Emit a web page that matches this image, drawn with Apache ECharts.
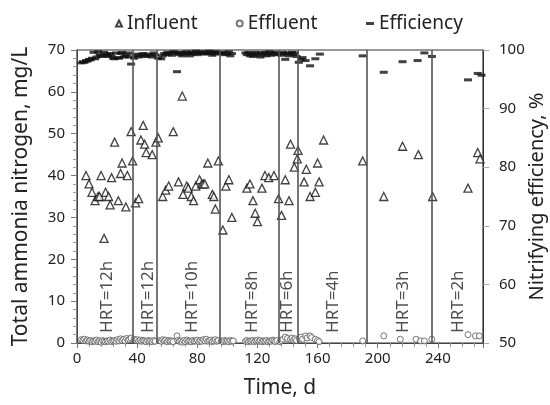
<!DOCTYPE html>
<html>
<head>
<meta charset="utf-8">
<script src="https://cdn.jsdelivr.net/npm/echarts@6/dist/echarts.min.js"></script>
<style>
  html, body { margin: 0; padding: 0; background: #fff; }
  #chart { width: 550px; height: 405px; }
</style>
</head>
<body>
<div id="chart"></div>
<script>
// [day, mg/L]
var influent = [
    [6,40],[8,38],[10,36],[12,34],[14,35],[15,35],[16,40],[18,25],[19,36],[21,35],[22,33],[23,39.5],
    [25,48],[27.5,34],[29,40.5],[30,43],[32.5,32.5],[33.5,40],[36,50.5],[37,43.5],
    [39,33.5],[41,34.5],[42.5,48.5],[44,52],[45,47.5],[46,45.5],[50,45],[52.5,48],[54,49],
    [57,35],[59,36.5],[61,37.5],[64,50.5],[67.5,38.5],[70,59],[70.5,35.5],[73,37.5],[74,37],[76,35],
    [77.5,34],[79,37.5],[81.5,39],[83,38],[84,38],[85,38],[87,43],[90,35.5],[91,35],[92,32],[94,43.5],
    [97,27],[99,37.5],[101,39],[103,30],[113,37],[115,38],[117,34],[118.5,31],[120,29],[123,37],
    [125,40],[127.5,39.5],[131,40],[134,34.5],
    [136,30.5],[138.5,39],[141,34],[142,47.5],[144.5,42],[146.5,44],
    [147,46],[151,38.5],[152.5,41.5],[155,35],[158.5,36],[160,43],[161,38.5],[164,48.5],[190,43.5],
    [204,35],[216.5,47],[227,45],[236.5,35],
    [260,37],[266.5,45.5],[268,44]
];

// [day, mg/L]
var effluent = [
    [3,0.8],[4,0.6],[5,0.9],[6,0.5],[7,0.7],[8,0.4],[9,0.6],[10,0.3],[11,0.5],[12,0.4],[13,0.7],[14,0.3],
    [15,0.5],[16,0.2],[17,0.6],[18,0.4],[19,0.3],[20,0.5],[21,0.4],[22,0.7],[23,0.3],[24,0.5],[25,0.6],
    [26,0.4],[27,0.8],[28,0.5],[29,1.0],[30,0.6],[31,0.9],[32,0.5],[33,1.1],[34,0.7],[35,0.9],[36,1.2],
    [38,0.9],[39,0.6],[40,0.8],[41,0.5],[42,0.7],[43,0.4],[44,0.6],[45,0.5],[46,0.3],[47,0.6],[48,0.4],
    [49,0.5],[50,0.3],[51,0.6],[52,0.4],
    [55,0.6],[56,0.4],[57,0.8],[58,0.5],[59,0.7],[60,0.3],[61,0.6],[62,0.4],[63,0.5],[64,0.3],[66.5,1.7],
    [67,0.6],[68,0.4],[69,0.5],[70,0.2],[71,0.6],[72,0.3],[73,0.7],[74,0.4],[75,0.5],[76,0.3],[77,0.6],
    [78,0.4],[79,0.5],[80,0.7],[81,0.3],[82,0.6],[83,0.4],[84,0.8],[85,0.5],[86,0.9],[87,0.4],[88,0.6],
    [89,0.7],[90,0.3],[91,0.5],[92,0.8],[93,0.4],[94,0.6],
    [96,0.5],[97,0.3],[98,0.6],[99,0.4],[100,0.5],[101,0.3],[102,0.6],[103,0.4],[104,0.5],
    [112,0.4],[113,0.6],[114,0.3],[115,0.5],[116,0.4],[117,0.6],[118,0.3],[119,0.5],[120,0.7],[121,0.4],
    [122,0.6],[123,0.3],[124,0.5],[125,0.4],[126,0.6],[127,0.3],[128,0.5],[129,0.4],[130,0.7],[131,0.5],
    [132,0.3],[133,0.6],
    [135,0.3],[136,0.6],[137,0.9],[138.5,1.4],[140,1.1],[142,0.9],[143,1.2],[144,0.7],[145,1.0],[146,0.6],
    [148,1.0],[149,1.4],[150,0.9],[152,1.7],[153,1.2],[155,1.7],[156,1.3],[158.5,0.9],[160,0.6],[161,0.3],
    [190,0.5],
    [204,1.7],[215,0.9],[225.5,0.9],[228.5,0.5],[231,0.5],[236,0.9],
    [260,2.0],[265,1.7],[267.5,1.7]
];

// [day, %]
var efficiency = [
    [3,97.8],[4,98.0],[5,97.9],[6,98.2],[7,98.1],[8,98.4],[9,98.3],[10,98.6],[11,99.6],[12,98.5],
    [13,98.8],[14,99.7],[15,99.2],[16,99.0],[17,98.9],[18,99.6],[19,99.1],[20,99.3],[21,98.9],[22,99.4],
    [23,99.0],[24,98.6],[25,98.5],[26,99.5],[27,98.7],[28,98.6],[29,99.4],[30,99.6],[31,98.8],[32,98.9],
    [33,99.2],[34,99.5],[35,98.8],[36,97.6],
    [38,98.6],[39,99.3],[40,99.0],[41,98.8],[43,99.2],[44,99.4],[45,99.0],[46,98.9],[47,99.3],[49,99.1],
    [50,98.8],[51,99.5],[52,99.2],[54,98.6],
    [56,98.5],[57,99.0],[58,99.4],[59,99.2],[60,99.6],[61,99.3],[62,99.5],[63,99.1],[64,99.7],[65,99.6],
    [66.5,96.3],[67,99.4],[68,99.2],[69,99.6],[70,99.0],[71,99.5],[72,99.3],[73,99.7],[74,99.4],[75,99.0],
    [76,99.6],[77,99.3],[78,99.5],[79,99.8],[80,99.2],[81,99.6],[82,99.4],[83,99.7],[84,99.5],[85,99.3],
    [86,99.6],[87,99.4],[88,99.8],[89,99.5],[90,99.1],[91,99.6],[92,99.3],[93,99.7],[94,99.5],
    [96,99.4],[97,99.6],[98,99.2],[99,99.5],[100,99.3],[101,99.7],[102,99.0],[103,99.4],
    [112,99.5],[113,99.2],[114,99.6],[115,99.0],[116,99.4],[117,98.9],[118,99.3],[119,99.6],[120,99.1],
    [121,99.4],[122,98.8],[123,99.5],[124,99.2],[125,99.6],[126,99.0],[127,99.4],[128,99.7],[129,99.1],
    [130,99.5],[131,99.3],[132,99.6],[133,99.2],
    [135,99.4],[136,99.1],[137,99.6],[138.5,98.4],[139,99.3],[140,99.5],[141,99.0],[142,99.4],[143,99.6],
    [144,99.2],[145,99.5],[146,98.9],
    [147.5,97.9],[149,98.4],[150,98.7],[152,98.2],[155,97.3],[158.5,98.5],[161.5,99.3],[190,99.0],
    [204,96.2],[216.5,98.0],[226.5,98.2],[231,99.5],[236,98.9],
    [260,94.9],[266.5,96.0],[269,95.7]
];

// HRT period boundaries (day) and labels
var hrtBounds = [37, 53, 95, 134, 147, 193, 236];
var hrtNames = ['HRT=12h', 'HRT=12h', 'HRT=10h', 'HRT=8h', 'HRT=6h', 'HRT=4h', 'HRT=3h', 'HRT=2h'];
var hrtLabelDays = [20, 47, 76.5, 116.5, 140, 170.5, 217, 253.5];
var hrtLabelY = 2.4;

var FONT = 'Noto Sans';

var hrtLabels = [];
for (var i = 0; i < hrtNames.length; i++) {
    hrtLabels.push([hrtLabelDays[i], hrtLabelY, hrtNames[i]]);
}

var chart = echarts.init(document.getElementById('chart'));

option = {
    animation: false,
    textStyle: { fontFamily: FONT, color: '#222' },
    legend: [{
        data: [{name: 'Influent', icon: 'triangle'}, {name: 'Effluent', icon: 'circle'}],
        left: 110,
        top: 9,
        itemWidth: 6,
        itemHeight: 6,
        itemGap: 38,
        textStyle: { fontFamily: FONT, fontSize: 19, color: '#222' }
    }, {
        data: ['Efficiency'],
        left: 361,
        top: 9,
        itemWidth: 8,
        itemHeight: 3,
        textStyle: { fontFamily: FONT, fontSize: 19, color: '#222' }
    }],
    grid: {
        left: 77,
        right: 67,
        top: 50,
        bottom: 62,
        outerBoundsMode: 'none',
        show: true,
        borderColor: '#333',
        borderWidth: 1.2
    },
    xAxis: {
        type: 'value',
        min: 0,
        max: 270,
        interval: 40,
        name: 'Time, d',
        nameLocation: 'middle',
        nameGap: 35,
        nameMoveOverlap: false,
        nameTextStyle: { fontSize: 21, color: '#222' },
        axisLine: { lineStyle: { color: '#444' } },
        axisTick: { length: 5, lineStyle: { color: '#777' } },
        minorTick: { show: true, splitNumber: 5, length: 4, lineStyle: { color: '#999' } },
        axisLabel: { fontSize: 15, color: '#222', margin: 8, showMaxLabel: false },
        splitLine: { show: false }
    },
    yAxis: [{
        type: 'value',
        min: 0,
        max: 70,
        interval: 10,
        name: 'Total ammonia nitrogen, mg/L',
        nameLocation: 'middle',
        nameGap: 45,
        nameMoveOverlap: false,
        nameTextStyle: { fontSize: 21, color: '#222' },
        axisLine: { show: true, lineStyle: { color: '#444' } },
        axisTick: { length: 6, lineStyle: { color: '#777' } },
        minorTick: { show: true, splitNumber: 5, length: 4, lineStyle: { color: '#999' } },
        axisLabel: { fontSize: 15, color: '#222', margin: 12 },
        splitLine: { show: false }
    }, {
        type: 'value',
        min: 50,
        max: 100,
        interval: 10,
        position: 'right',
        name: 'Nitrifying efficiency, %',
        nameLocation: 'middle',
        nameGap: 44,
        nameMoveOverlap: false,
        nameTextStyle: { fontSize: 20, color: '#222' },
        axisLine: { show: true, lineStyle: { color: '#333' } },
        axisTick: { length: 6, lineStyle: { color: '#aaa' } },
        axisLabel: { fontSize: 15, color: '#222', margin: 16 },
        splitLine: { show: false }
    }],
    series: [{
        name: 'Influent',
        type: 'scatter',
        data: influent,
        symbol: 'triangle',
        symbolSize: 8,
        itemStyle: { color: '#fff', borderColor: '#111', borderWidth: 1.3 },
        markLine: {
            silent: true,
            symbol: ['none', 'none'],
            label: { show: false },
            lineStyle: { color: '#555', width: 1.6, type: 'solid' },
            data: hrtBounds.map(function (d) { return { xAxis: d }; })
        },
        z: 3
    }, {
        name: 'Effluent',
        type: 'scatter',
        data: effluent,
        symbol: 'circle',
        symbolSize: 6,
        itemStyle: { color: '#fff', borderColor: '#555', borderWidth: 1 },
        z: 3
    }, {
        name: 'Efficiency',
        type: 'scatter',
        yAxisIndex: 1,
        data: efficiency,
        symbol: 'rect',
        symbolSize: [8, 3],
        itemStyle: { color: '#111' },
        z: 4
    }, {
        name: 'hrt',
        type: 'scatter',
        data: hrtLabels,
        symbolSize: 0,
        silent: true,
        label: {
            show: true,
            position: 'inside',
            rotate: 90,
            align: 'left',
            verticalAlign: 'middle',
            fontSize: 17,
            fontFamily: FONT,
            color: '#222',
            formatter: function (p) { return p.data[2]; }
        },
        z: 2
    }]
};

chart.setOption(option);
</script>
</body>
</html>
